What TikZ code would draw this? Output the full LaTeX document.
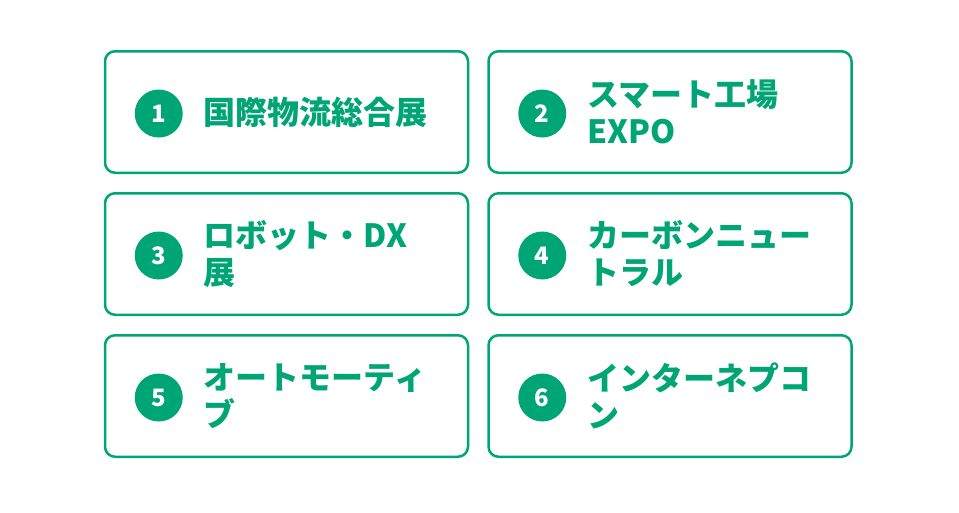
\documentclass[tikz,border=0pt]{standalone}
\usepackage{fontspec}
\newfontfamily\jpfont{Noto Sans CJK JP}
\usepackage{tikz}
\usetikzlibrary{positioning}
\definecolor{expogreen}{RGB}{0, 165, 118}

\tikzset{
  card/.style={draw=expogreen, line width=2.5pt, rounded corners=10pt, fill=white,
    minimum width=363pt, minimum height=121.5pt},
  badge/.style={circle, fill=expogreen, minimum size=48pt, inner sep=0pt,
    text=white, font=\jpfont\bfseries\fontsize{24}{24}\selectfont},
  title/.style={anchor=west, align=left, inner sep=0pt, text=expogreen,
    font=\jpfont\bfseries\fontsize{32}{37}\selectfont}
}

\begin{document}
\begin{tikzpicture}[x=1pt, y=-1pt, node distance=18pt]
  \useasboundingbox (0,0) rectangle (959,512);

  % cards
  \node[card] (c1) at (286.5, 112) {};
  \node[card, right=of c1] (c2) {};
  \node[card, below=of c1] (c3) {};
  \node[card, right=of c3] (c4) {};
  \node[card, below=of c3] (c5) {};
  \node[card, right=of c5] (c6) {};

  % numbers
  \node[badge] (n1) at ([xshift=55pt,yshift=-1.5pt]c1.west) {1};
  \node[badge] (n2) at ([xshift=55pt,yshift=-1.5pt]c2.west) {2};
  \node[badge] (n3) at ([xshift=55pt,yshift=-1.5pt]c3.west) {3};
  \node[badge] (n4) at ([xshift=55pt,yshift=-1.5pt]c4.west) {4};
  \node[badge] (n5) at ([xshift=55pt,yshift=-1.5pt]c5.west) {5};
  \node[badge] (n6) at ([xshift=55pt,yshift=-1.5pt]c6.west) {6};

  % titles
  \node[title] (t1) at ([xshift=100pt]c1.west) {国際物流総合展};
  \node[title] (t2) at ([xshift=100pt]c2.west) {スマート工場\\EXPO};
  \node[title] (t3) at ([xshift=100pt]c3.west) {ロボット・DX\\展};
  \node[title] (t4) at ([xshift=100pt]c4.west) {カーボンニュー\\トラル};
  \node[title] (t5) at ([xshift=100pt]c5.west) {オートモーティ\\ブ};
  \node[title] (t6) at ([xshift=100pt]c6.west) {インターネプコ\\ン};
\end{tikzpicture}
\end{document}
